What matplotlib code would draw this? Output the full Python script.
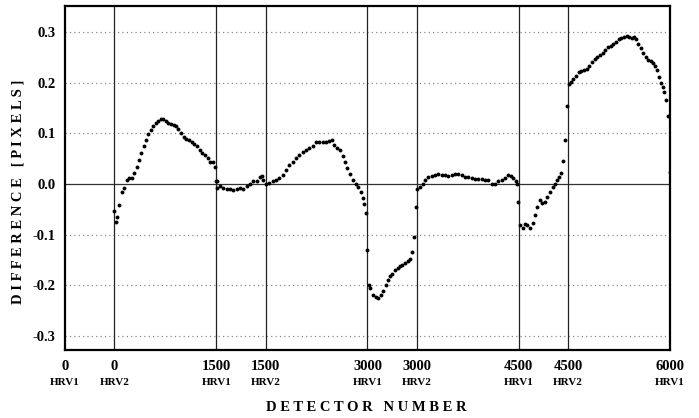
import matplotlib
matplotlib.use("Agg")
import matplotlib.pyplot as plt
import matplotlib.transforms as mtransforms

# position along the axis in HRV1 detector units; HRV2 detector n sits at n + 490
tick_pos = [0, 490, 1500, 1990, 3000, 3490, 4500, 4990, 6000]
tick_num = ["0", "0", "1500", "1500", "3000", "3000", "4500", "4500", "6000"]
tick_arr = ["HRV1", "HRV2", "HRV1", "HRV2", "HRV1", "HRV2", "HRV1", "HRV2", "HRV1"]

det = [
    490, 505, 520, 536, 562, 588, 612, 635, 661, 687, 711, 734, 754, 780, 803,
    826, 853, 876, 899, 925, 952, 975, 999, 1024, 1051, 1078, 1101, 1124, 1150,
    1177, 1203, 1230, 1256, 1282, 1309, 1336, 1362, 1388, 1415, 1441, 1465,
    1488, 1497,
    1504, 1510, 1537, 1570, 1604, 1636, 1669, 1703, 1735, 1768, 1802, 1835,
    1867, 1901, 1934, 1951, 1967,
    1993, 2026, 2060, 2092, 2125, 2159, 2192, 2224, 2258, 2291, 2324, 2357,
    2390, 2423, 2456, 2489, 2522, 2556, 2588, 2621, 2648, 2668, 2694, 2727,
    2754, 2777, 2800, 2826, 2853, 2883, 2909, 2932, 2952, 2965, 2982, 2998,
    3015, 3025, 3057, 3081, 3107, 3134, 3157, 3180, 3200, 3223, 3246, 3273,
    3299, 3322, 3345, 3372, 3399, 3421, 3444, 3464, 3481,
    3490, 3520, 3547, 3570, 3603, 3637, 3669, 3702, 3736, 3768, 3801, 3835,
    3868, 3900, 3934, 3967, 4000, 4033, 4066, 4099, 4132, 4165, 4198, 4232,
    4264, 4297, 4331, 4364, 4396, 4420, 4446, 4473, 4486, 4496,
    4512, 4539, 4562, 4585, 4611, 4638, 4661, 4684, 4711, 4734, 4760, 4783,
    4810, 4836, 4859, 4882, 4902, 4922, 4942, 4962, 4982,
    4995, 5015, 5041, 5068, 5094, 5120, 5147, 5174, 5199, 5226, 5253, 5279,
    5306, 5332, 5358, 5385, 5412, 5438, 5464, 5491, 5517, 5543, 5570, 5596,
    5623, 5643, 5662, 5685, 5709, 5735, 5762, 5785, 5809, 5828, 5848, 5868,
    5888, 5908, 5927, 5943, 5960, 5977, 6000,
]

diff = [
    -0.053, -0.075, -0.065, -0.041, -0.015, -0.007, 0.008, 0.011, 0.011, 0.021,
    0.034, 0.047, 0.062, 0.075, 0.087, 0.099, 0.107, 0.115, 0.121, 0.125,
    0.128, 0.128, 0.125, 0.121, 0.119, 0.117, 0.115, 0.108, 0.100, 0.092,
    0.088, 0.086, 0.082, 0.078, 0.074, 0.067, 0.062, 0.057, 0.051, 0.044,
    0.043, 0.033, 0.006,
    0.005, -0.007, -0.004, -0.007, -0.009, -0.010, -0.012, -0.010, -0.008,
    -0.009, -0.004, 0.001, 0.005, 0.006, 0.013, 0.016, 0.008,
    0.001, 0.003, 0.006, 0.008, 0.011, 0.018, 0.028, 0.038, 0.044, 0.051,
    0.057, 0.064, 0.067, 0.072, 0.075, 0.082, 0.082, 0.082, 0.082, 0.084,
    0.086, 0.077, 0.071, 0.067, 0.055, 0.044, 0.031, 0.020, 0.008, 0.001,
    -0.006, -0.015, -0.028, -0.040, -0.057, -0.130,
    -0.200, -0.205, -0.219, -0.223, -0.225, -0.219, -0.211, -0.200, -0.190,
    -0.182, -0.177, -0.170, -0.165, -0.162, -0.159, -0.155, -0.152, -0.147,
    -0.134, -0.104, -0.046,
    -0.009, -0.005, 0.000, 0.008, 0.014, 0.016, 0.018, 0.019, 0.018, 0.017,
    0.016, 0.018, 0.019, 0.019, 0.018, 0.014, 0.013, 0.011, 0.010, 0.009,
    0.009, 0.008, 0.007, 0.001, 0.000, 0.005, 0.008, 0.011, 0.018, 0.016,
    0.011, 0.005, 0.000, -0.035,
    -0.080, -0.086, -0.079, -0.081, -0.086, -0.076, -0.061, -0.045, -0.032,
    -0.037, -0.035, -0.025, -0.015, -0.005, 0.001, 0.008, 0.013, 0.022,
    0.046, 0.087, 0.154,
    0.198, 0.202, 0.207, 0.213, 0.220, 0.222, 0.224, 0.227, 0.232, 0.240,
    0.246, 0.250, 0.255, 0.259, 0.265, 0.270, 0.272, 0.277, 0.281, 0.286,
    0.288, 0.290, 0.291, 0.290, 0.288, 0.290, 0.285, 0.277, 0.268, 0.258,
    0.250, 0.245, 0.242, 0.239, 0.233, 0.225, 0.211, 0.200, 0.192, 0.182,
    0.166, 0.134, 0.024,
]

serif = "Liberation Serif"

fig = plt.figure(figsize=(6.99, 4.18), dpi=100)
ax = fig.add_axes([0.093, 0.163, 0.8655, 0.8226])

ax.set_xlim(0, 6000)
ax.set_ylim(-0.327, 0.351)

# dotted horizontal grid, solid zero line
for yv in [-0.3, -0.2, -0.1, 0.1, 0.2, 0.3]:
    ax.axhline(yv, color="#8a8a8a", lw=0.9, ls=(0, (1, 2.5)), zorder=1)
ax.axhline(0.0, color="#333333", lw=0.9, zorder=1)

# boundaries between the detector arrays
for xv in tick_pos[1:-1]:
    ax.axvline(xv, color="#222222", lw=0.9, zorder=1)

ax.plot(det, diff, ls="none", marker="o", ms=2.8, color="black",
        markeredgewidth=0, zorder=3)

for s in ax.spines.values():
    s.set_linewidth(1.6)

ax.set_yticks([-0.3, -0.2, -0.1, 0.0, 0.1, 0.2, 0.3])
ax.set_yticklabels(["-0.3", "-0.2", "-0.1", "0.0", "0.1", "0.2", "0.3"],
                   family=serif, fontweight="bold", fontsize=10.5)
ax.set_xticks(tick_pos)
ax.set_xticklabels(tick_num, family=serif, fontweight="bold", fontsize=10.5)
ax.tick_params(axis="both", length=0, pad=7)

trans = mtransforms.blended_transform_factory(ax.transData, ax.transAxes)
for xp, name in zip(tick_pos, tick_arr):
    ax.text(xp, -0.095, name, transform=trans, ha="center", va="center",
            family=serif, fontweight="bold", fontsize=8)

fig.text(0.524, 0.024, "D E T E C T O R   N U M B E R", ha="center",
         va="center", family=serif, fontweight="bold", fontsize=10.5)
fig.text(0.026, 0.54, "D I F F E R E N C E   [ P I X E L S ]", ha="center",
         va="center", rotation=90, family=serif, fontweight="bold",
         fontsize=10.5)

fig.savefig("out.png", dpi=100)
